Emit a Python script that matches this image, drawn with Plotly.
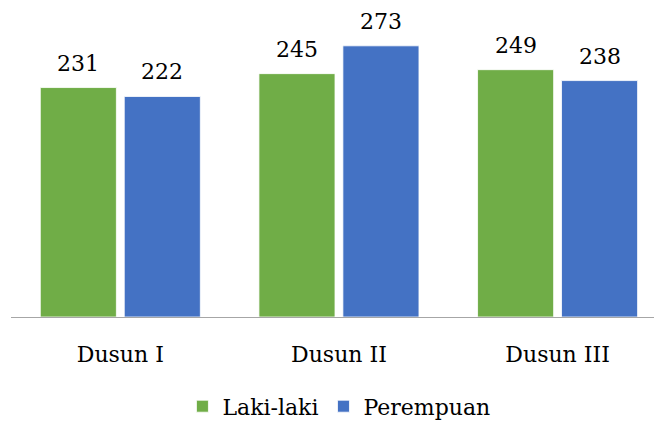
import plotly.graph_objects as go

# Population per hamlet, by sex
categories = ["Dusun I", "Dusun II", "Dusun III"]
laki = [231, 245, 249]
perempuan = [222, 273, 238]

GREEN = "#70AD47"
BLUE = "#4472C4"
FONT = "DejaVu Serif"

BAR_W = 0.348
OFFSET = 0.192  # centre of each bar relative to its category

xpos = list(range(len(categories)))

fig = go.Figure()
for name, vals, color, sign in [("Laki-laki", laki, GREEN, -1), ("Perempuan", perempuan, BLUE, 1)]:
    fig.add_trace(go.Bar(
        x=xpos, y=vals, name=name,
        width=BAR_W, offset=sign * OFFSET - BAR_W / 2,
        marker=dict(color=color, line=dict(color="white", width=0.8)),
        hoverinfo="skip",
    ))
    for xi, v in zip(xpos, vals):
        fig.add_annotation(
            x=xi + sign * OFFSET, y=v, text=str(v), showarrow=False,
            yanchor="bottom", yshift=10,
            font=dict(family=FONT, size=22, color="#000000"),
        )

fig.update_layout(
    width=654, height=421,
    margin=dict(l=11, r=0, t=18.5, b=104, autoexpand=False),
    paper_bgcolor="white", plot_bgcolor="white",
    barmode="overlay",
    showlegend=True,
    legend=dict(
        orientation="h", x=0.510, xanchor="center", y=-0.30, yanchor="middle",
        font=dict(family=FONT, size=22, color="#000000"),
        itemwidth=30,
    ),
    font=dict(family=FONT, size=22, color="#000000"),
)
fig.update_xaxes(
    range=[-0.5, 2.441], tickmode="array", tickvals=xpos, ticktext=categories,
    showgrid=False, zeroline=False, showline=True, linecolor="#A6A6A6", linewidth=1.3,
    ticks="", ticklabelstandoff=17,
    tickfont=dict(family=FONT, size=22, color="#000000"),
)
fig.update_yaxes(range=[0, 300], visible=False, showgrid=False, zeroline=False)

fig.write_html("out.html")
